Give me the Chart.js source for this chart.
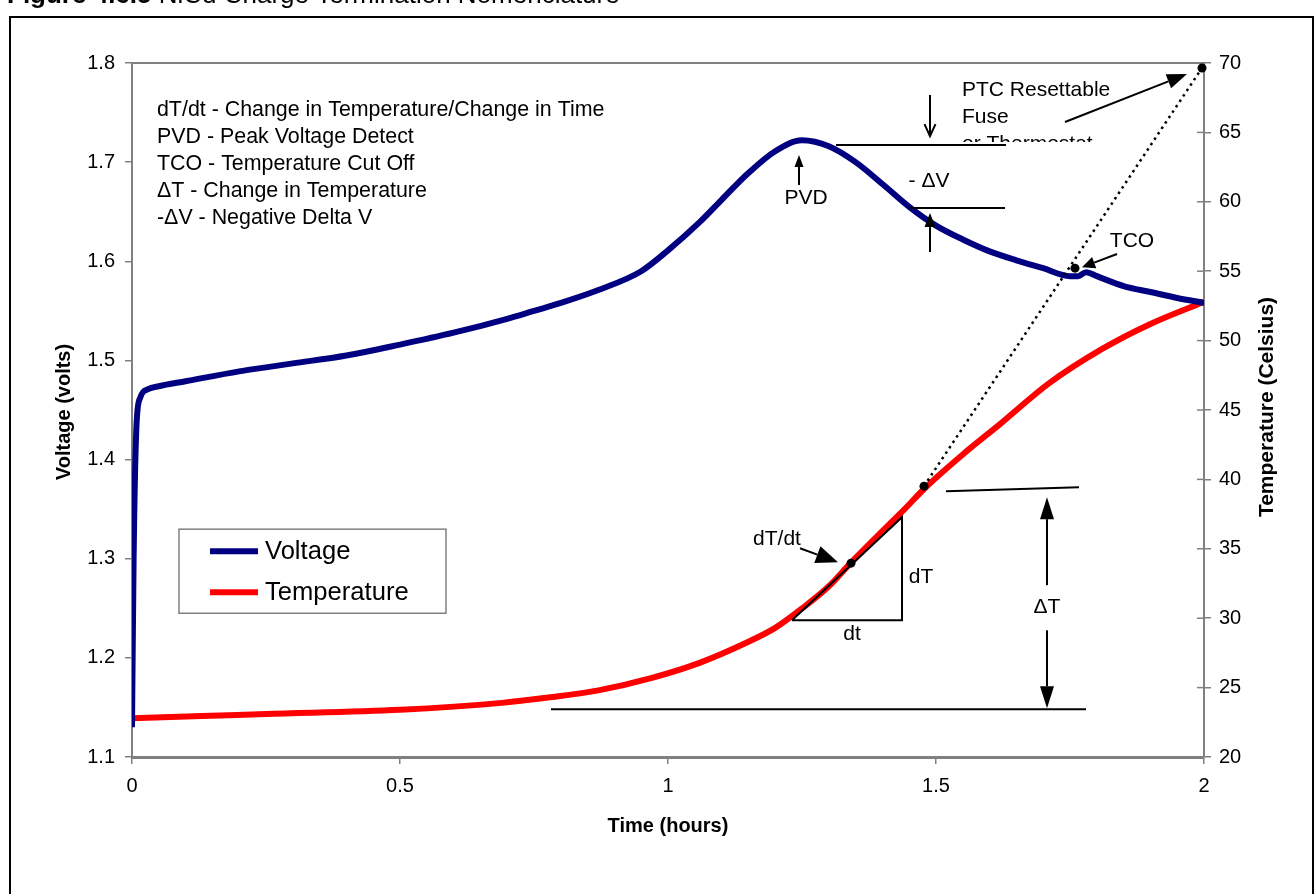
<!DOCTYPE html>
<html><head><meta charset="utf-8">
<script src="https://cdn.jsdelivr.net/npm/chart.js@4/dist/chart.umd.min.js"></script>
<style>html,body{margin:0;padding:0;background:#fff;}#wrap{width:1316px;height:894px;position:relative;}canvas{display:block;background:#fff;}</style>
</head><body><div id="wrap"><canvas id="c" width="1316" height="894"></canvas></div>
<script>
const FONT = "'Liberation Sans', Arial, Helvetica, sans-serif";

// ---- data ----
const voltageTime = [0,0.003,0.008,0.015,0.03,0.05,0.1,0.2,0.25,0.3,0.4,0.5,0.6,0.7,0.75,0.8,0.87,0.95,1.0,1.06,1.1,1.15,1.2,1.25,1.3,1.35,1.4,1.45,1.5,1.55,1.6,1.65,1.7,1.75,1.765,1.78,1.8,1.85,1.9,1.95,2.0];
const voltage = [1.13,1.30,1.43,1.462,1.471,1.474,1.479,1.489,1.493,1.497,1.505,1.516,1.528,1.542,1.550,1.558,1.571,1.590,1.611,1.640,1.662,1.689,1.711,1.722,1.716,1.700,1.678,1.655,1.636,1.622,1.610,1.601,1.593,1.585,1.585,1.589,1.585,1.575,1.569,1.563,1.558];
const tempTime = [0,0.13,0.25,0.5,0.69,0.78,0.87,0.97,1.06,1.15,1.2,1.25,1.3,1.34,1.39,1.44,1.48,1.55,1.62,1.71,1.81,1.9,2.0];
const temperature = [22.8,22.95,23.1,23.4,23.9,24.3,24.8,25.7,26.8,28.3,29.3,30.7,32.3,33.95,35.9,37.8,39.4,41.8,44.0,46.9,49.4,51.2,52.8];

const seriesNames = ['Voltage','Temperature'];
const xTicks = [0,0.5,1,1.5,2];
const xTickLabels = ['0','0.5','1','1.5','2'];
const voltTicks = [1.1,1.2,1.3,1.4,1.5,1.6,1.7,1.8];
const voltTickLabels = ['1.1','1.2','1.3','1.4','1.5','1.6','1.7','1.8'];
const tempTicks = [20,25,30,35,40,45,50,55,60,65,70];
const tempTickLabels = ['20','25','30','35','40','45','50','55','60','65','70'];

const titleBold = 'Figure 4.6.5';
const titleRest = ' NiCd Charge Termination Nomenclature';
const xTitle = 'Time (hours)';
const yVTitle = 'Voltage (volts)';
const yTTitle = 'Temperature (Celsius)';
const glossary = ['dT/dt - Change in Temperature/Change in Time','PVD - Peak Voltage Detect','TCO - Temperature Cut Off','\u0394T - Change in Temperature','-\u0394V - Negative Delta V'];
const ptcText = ['PTC Resettable','Fuse','or Thermostat'];

// ---- drawing helpers ----
function seg(ctx, pts, w){
  ctx.beginPath(); ctx.moveTo(pts[0][0],pts[0][1]);
  for(let i=1;i<pts.length;i++) ctx.lineTo(pts[i][0],pts[i][1]);
  ctx.lineWidth=w||2; ctx.stroke();
}
function arrow(ctx,x1,y1,x2,y2,filled,len,wid){
  const a=Math.atan2(y2-y1,x2-x1);
  const bx=x2-len*Math.cos(a), by=y2-len*Math.sin(a);
  const px=-Math.sin(a)*wid/2, py=Math.cos(a)*wid/2;
  if(filled){
    seg(ctx,[[x1,y1],[bx,by]],2);
    ctx.beginPath(); ctx.moveTo(x2,y2); ctx.lineTo(bx+px,by+py); ctx.lineTo(bx-px,by-py); ctx.closePath(); ctx.fill();
  } else {
    seg(ctx,[[x1,y1],[x2,y2]],2);
    seg(ctx,[[bx+px,by+py],[x2,y2],[bx-px,by-py]],2);
  }
}
function dot(ctx,x,y,r){ctx.beginPath();ctx.arc(x,y,r||4,0,Math.PI*2);ctx.fill();}
function txt(ctx,s,x,y,align){ctx.textAlign=align||'center';ctx.textBaseline='middle';ctx.fillText(s,x,y);}

const annot = {
  id:'annot',
  afterDraw(chart){
    const {ctx, chartArea:ca, scales} = chart;
    const X=t=>scales.x.getPixelForValue(t);
    const V=v=>scales.yV.getPixelForValue(v);
    ctx.save();
    ctx.strokeStyle='#000'; ctx.fillStyle='#000'; ctx.lineCap='butt';

    // plot frame top + inner ticks on right axis
    ctx.strokeStyle='#808080';
    seg(ctx,[[ca.left,ca.top],[ca.right,ca.top]],2);
    tempTicks.forEach(v=>{const y=scales.yT.getPixelForValue(v); seg(ctx,[[ca.right-7,y],[ca.right,y]],1.5);});
    ctx.strokeStyle='#000';

    // outer frame
    ctx.lineWidth=2; ctx.strokeRect(10,17,1303,900);

    // title (cut off at top of page)
    ctx.font='bold 26px '+FONT; ctx.textAlign='left'; ctx.textBaseline='alphabetic';
    ctx.fillText(titleBold,7,3);
    const w=ctx.measureText(titleBold).width;
    ctx.font='26px '+FONT; ctx.fillText(titleRest,7+w,3);

    // axis titles
    ctx.font='bold 20px '+FONT;
    txt(ctx,xTitle,(ca.left+ca.right)/2,826);
    ctx.save(); ctx.translate(64,412); ctx.rotate(-Math.PI/2); txt(ctx,yVTitle,0,0); ctx.restore();
    ctx.font='bold 21px '+FONT;
    ctx.save(); ctx.translate(1267,407); ctx.rotate(-Math.PI/2); txt(ctx,yTTitle,0,0); ctx.restore();

    // glossary text
    ctx.font='21.4px '+FONT;
    glossary.forEach((s,i)=>txt(ctx,s,X(0.0466),V(1.7526-i*0.02725),'left'));

    // legend box
    const lx1=X(0.0877), lx2=X(0.5858), ly1=V(1.3298), ly2=V(1.2450);
    ctx.strokeStyle='#808080'; ctx.lineWidth=1.5; ctx.strokeRect(lx1,ly1,lx2-lx1,ly2-ly1);
    ctx.font='25.6px '+FONT;
    chart.data.datasets.forEach((ds,i)=>{
      const y=V(i===0?1.3076:1.2662);
      ctx.strokeStyle=ds.borderColor; seg(ctx,[[X(0.1455),y],[X(0.2351),y]],6);
      ctx.fillStyle='#000'; txt(ctx,ds.label,X(0.2481),y+1,'left');
    });
    ctx.strokeStyle='#000'; ctx.fillStyle='#000';

    // PVD
    ctx.font='21px '+FONT;
    arrow(ctx,X(1.2444),V(1.6769),X(1.2444),V(1.7072),true,12,9);
    txt(ctx,'PVD',X(1.2575),V(1.6638));

    // -dV markers
    seg(ctx,[[X(1.3134),V(1.7173)],[X(1.6306),V(1.7173)]],2);
    arrow(ctx,X(1.4888),V(1.7677),X(1.4888),V(1.7263),false,12,11);
    txt(ctx,'- \u0394V',X(1.487),V(1.681));
    seg(ctx,[[X(1.4515),V(1.6537)],[X(1.6287),V(1.6537)]],2);
    arrow(ctx,X(1.4888),V(1.6093),X(1.4888),V(1.6486),true,14,11);

    // PTC text (clipped as in reference)
    ctx.save();
    ctx.beginPath(); ctx.rect(X(1.53),V(1.80),X(2.0)-X(1.53),V(1.7203)-V(1.80)); ctx.clip();
    ptcText.forEach((s,i)=>txt(ctx,s,X(1.5485),V(1.7728-i*0.02725),'left'));
    ctx.restore();
    arrow(ctx,X(1.7407),V(1.7405),X(1.9683),V(1.7889),true,20,15);

    // dotted line from dT point to PTC point
    ctx.save(); ctx.setLineDash([2.5,4]);
    seg(ctx,[[X(1.4776),V(1.3732)],[X(1.9963),V(1.7950)]],2.5);
    ctx.restore();
    dot(ctx,X(1.9963),V(1.7950),4.5);
    dot(ctx,X(1.7593),V(1.5931),4.5);
    dot(ctx,X(1.4776),V(1.3732),4.5);

    // TCO
    arrow(ctx,X(1.8377),V(1.6073),X(1.7724),V(1.5941),true,13,12);
    txt(ctx,'TCO',X(1.8657),V(1.6204));

    // Delta T
    seg(ctx,[[X(1.5187),V(1.3681)],[X(1.7668),V(1.3721)]],2);
    seg(ctx,[[X(0.7817),V(1.1481)],[X(1.7799),V(1.1481)]],2);
    arrow(ctx,X(1.7071),V(1.2733),X(1.7071),V(1.3621),true,22,14);
    arrow(ctx,X(1.7071),V(1.2278),X(1.7071),V(1.1491),true,22,14);
    txt(ctx,'\u0394T',X(1.7071),V(1.2511));

    // dT/dt triangle
    seg(ctx,[[X(1.2313),V(1.2379)],[X(1.4366),V(1.3419)],[X(1.4366),V(1.2379)],[X(1.2313),V(1.2379)]],2);
    txt(ctx,'dT',X(1.472),V(1.2813));
    txt(ctx,'dt',X(1.3433),V(1.2238));
    txt(ctx,'dT/dt',X(1.2034),V(1.3197));
    arrow(ctx,X(1.2463),V(1.3106),X(1.3172),V(1.2965),true,22,18);
    dot(ctx,X(1.3414),V(1.2955),4.5);

    ctx.restore();
  }
};

const tickFont = {family:FONT, size:20};
const gridOpt = {drawOnChartArea:false, drawTicks:true, tickLength:7, color:'#808080', lineWidth:1.5};

new Chart(document.getElementById('c').getContext('2d'), {
  type:'line',
  data:{datasets:[
    {label:seriesNames[0], data:voltageTime.map((t,i)=>({x:t,y:voltage[i]})), yAxisID:'yV', borderColor:'#000080', backgroundColor:'#000080', borderWidth:6, pointRadius:0, cubicInterpolationMode:'monotone', fill:false},
    {label:seriesNames[1], data:tempTime.map((t,i)=>({x:t,y:temperature[i]})), yAxisID:'yT', borderColor:'#ff0000', backgroundColor:'#ff0000', borderWidth:6, pointRadius:0, cubicInterpolationMode:'monotone', fill:false}
  ]},
  options:{
    responsive:false, animation:false, devicePixelRatio:1,
    layout:{padding:{left:0,right:0,top:63,bottom:87}},
    plugins:{legend:{display:false}, tooltip:{enabled:false}, title:{display:false}},
    scales:{
      x:{type:'linear', position:'bottom', min:0, max:2,
         afterBuildTicks:s=>{s.ticks=xTicks.map(v=>({value:v}));},
         afterFit:s=>{s.height=50;},
         ticks:{callback:v=>xTickLabels[xTicks.indexOf(v)], font:tickFont, color:'#000', padding:10, maxRotation:0, autoSkip:false},
         grid:gridOpt, border:{display:true,color:'#808080',width:3}},
      yV:{type:'linear', position:'left', min:1.1, max:1.8,
         afterBuildTicks:s=>{s.ticks=voltTicks.map(v=>({value:v}));},
         afterFit:s=>{s.width=132;},
         ticks:{callback:v=>voltTickLabels[voltTicks.findIndex(t=>Math.abs(t-v)<1e-9)], font:tickFont, color:'#000', padding:10, autoSkip:false},
         grid:gridOpt, border:{display:true,color:'#808080',width:2}},
      yT:{type:'linear', position:'right', min:20, max:70,
         afterBuildTicks:s=>{s.ticks=tempTicks.map(v=>({value:v}));},
         afterFit:s=>{s.width=112;},
         ticks:{callback:v=>tempTickLabels[tempTicks.indexOf(v)], font:tickFont, color:'#000', padding:8, autoSkip:false},
         grid:gridOpt, border:{display:true,color:'#808080',width:2}}
    }
  },
  plugins:[annot]
});
</script></body></html>
